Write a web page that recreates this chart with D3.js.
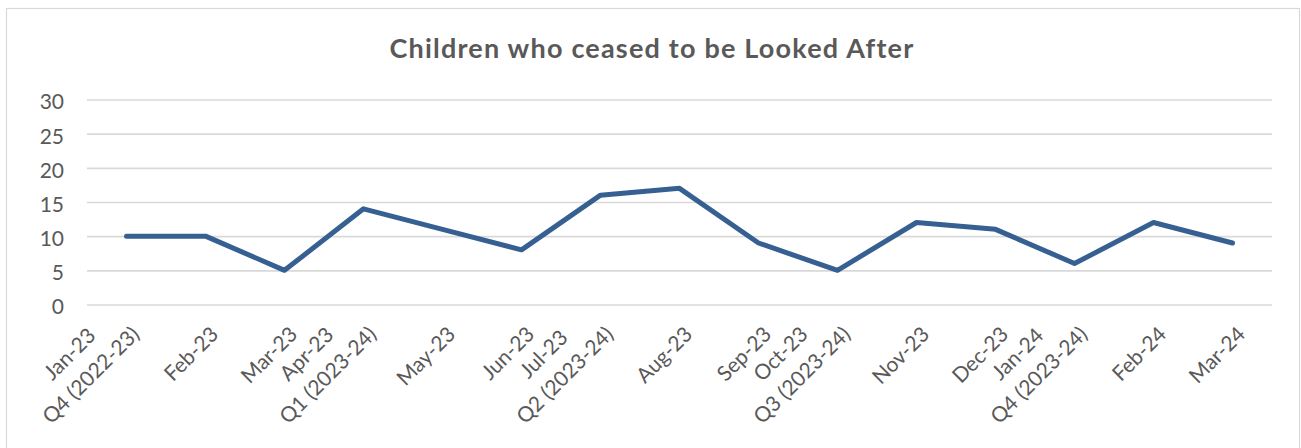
<!DOCTYPE html>
<html>
<head>
<meta charset="utf-8">
<script src="https://cdn.jsdelivr.net/npm/d3@7"></script>
<style>
  html, body { margin: 0; padding: 0; background: #ffffff; }
  svg { display: block; font-family: Lato, "Open Sans", sans-serif; }
</style>
</head>
<body>
<svg id="chart" width="1301" height="448"></svg>
<script>
// Monthly counts, with the financial quarter shown under the first month of each quarter
const months = ["Jan-23", "Feb-23", "Mar-23", "Apr-23", "May-23", "Jun-23", "Jul-23", "Aug-23",
                "Sep-23", "Oct-23", "Nov-23", "Dec-23", "Jan-24", "Feb-24", "Mar-24"];
const quarters = ["Q4 (2022-23)", "", "", "Q1 (2023-24)", "", "", "Q2 (2023-24)", "",
                  "", "Q3 (2023-24)", "", "", "Q4 (2023-24)", "", ""];
const ceased = [10, 10, 5, 14, 11, 8, 16, 17, 9, 5, 12, 11, 6, 12, 9];
const yTicks = [0, 5, 10, 15, 20, 25, 30];
const chartTitle = "Children who ceased to be Looked After";

const svg = d3.select("#chart");
const textColor = "#595959";
const gridColor = "#d9d9d9";
const lineColor = "#376092";

const plot = { left: 87, right: 1272, top: 99.5, bottom: 304.5 };

// Outer chart frame
svg.append("rect")
  .attr("x", 6.5).attr("y", 8.5)
  .attr("width", 1293).attr("height", 460)
  .attr("fill", "#ffffff")
  .attr("stroke", gridColor).attr("stroke-width", 1.2);

// Title
svg.append("text")
  .attr("x", 652).attr("y", 47)
  .attr("text-anchor", "middle")
  .attr("dominant-baseline", "central")
  .attr("fill", textColor)
  .attr("font-family", "Lato, sans-serif")
  .attr("font-weight", "bold")
  .attr("font-size", 27)
  .attr("letter-spacing", 1.2)
  .text(chartTitle);

const x = d3.scaleBand().domain(months).range([plot.left, plot.right]);
const y = d3.scaleLinear().domain([0, 30]).range([plot.bottom, plot.top]);

// Horizontal gridlines and value axis labels
const yAxis = d3.axisLeft(y).tickValues(yTicks).tickSize(-(plot.right - plot.left)).tickPadding(23);
const yg = svg.append("g").attr("transform", `translate(${plot.left},0)`).call(yAxis);
yg.select(".domain").remove();
yg.selectAll(".tick line").attr("stroke", gridColor).attr("stroke-width", 1.6);
yg.selectAll(".tick text")
  .attr("fill", textColor)
  .attr("font-size", 21)
  .attr("font-family", "Lato, sans-serif")
  .attr("dy", "0.45em");

// Category labels: month, with quarter on a second line, rotated -45deg
const xAxis = d3.axisBottom(x).tickSize(0).tickFormat(() => "");
const xg = svg.append("g").attr("transform", `translate(0,${plot.bottom})`).call(xAxis);
xg.select(".domain").remove();

const lineGap = 30;
xg.selectAll(".tick").each(function (d, i) {
  const lines = quarters[i] ? [months[i], quarters[i]] : [months[i]];
  const t = d3.select(this).select("text")
    .attr("fill", textColor)
    .attr("font-size", 21)
    .attr("font-family", "Lato, sans-serif")
    .attr("text-anchor", "middle")
    .attr("dominant-baseline", "central")
    .attr("y", null).attr("dy", null)
    .attr("transform", "rotate(-45)");
  const spans = t.selectAll("tspan").data(lines).join("tspan")
    .text(s => s);
  // widest line decides the shared centre along the rotated baseline
  let maxW = 0;
  spans.each(function () { maxW = Math.max(maxW, this.getComputedTextLength()); });
  const cx = -(maxW / 2) - 12;
  spans.attr("x", cx).attr("y", (s, k) => 23 - (lines.length - 1 - k) * lineGap);
});

// Series line
const line = d3.line()
  .x((d, i) => x(months[i]) + x.bandwidth() / 2)
  .y(d => y(d));

svg.append("path")
  .datum(ceased)
  .attr("d", line)
  .attr("fill", "none")
  .attr("stroke", lineColor)
  .attr("stroke-width", 5)
  .attr("stroke-linejoin", "round")
  .attr("stroke-linecap", "round");
</script>
</body>
</html>
